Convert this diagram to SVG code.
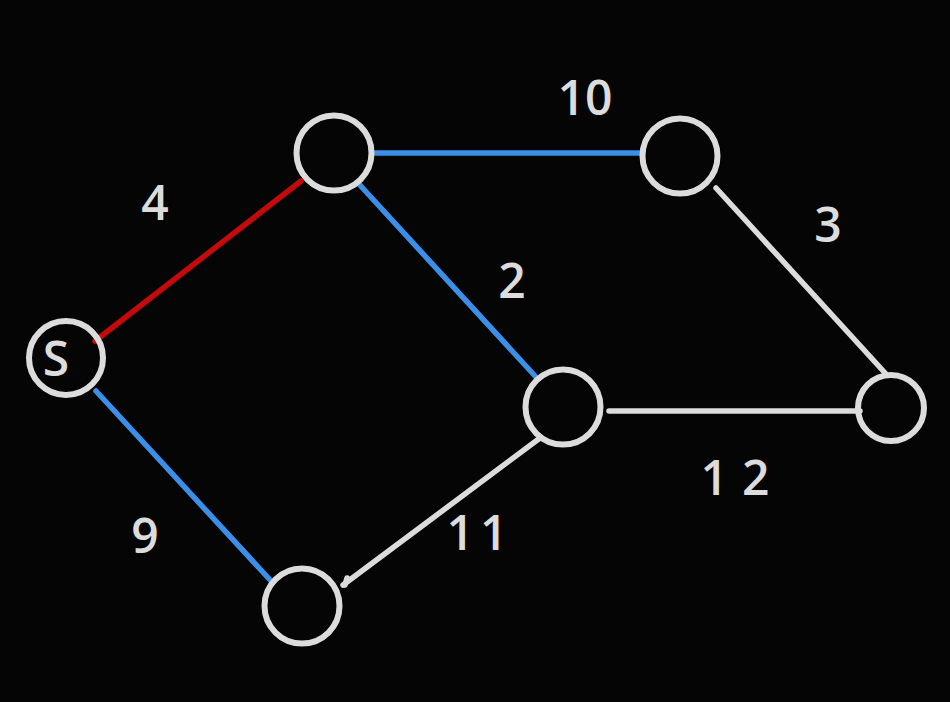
<svg xmlns="http://www.w3.org/2000/svg" width="950" height="702" viewBox="0 0 950 702">
<style>
.node{fill:none;stroke:#dcdcdc;stroke-width:6}
.e{stroke-width:5.5;stroke-linecap:round;fill:none}
.g{stroke:#dcdcdc}
.b{stroke:#3b8fe8}
.r{stroke:#c40a0a}
.lbl{fill:#dcdcdc;font-family:"Open Sans","DejaVu Sans",sans-serif;font-size:48px;font-weight:600;text-anchor:middle}
</style>
<rect width="950" height="702" fill="#050505"/>
<g id="connectors">
<line class="e r" x1="95" y1="341" x2="301" y2="181"/>
<line class="e b" x1="375" y1="153" x2="640" y2="153"/>
<line class="e b" x1="358" y1="183" x2="536" y2="377"/>
<line class="e b" x1="96" y1="391" x2="272" y2="582"/>
<line class="e g" x1="540" y1="438" x2="343" y2="585"/>
<path class="e g" d="M345 585 L347 578"/>
<line class="e g" x1="609" y1="411" x2="860" y2="411"/>
<line class="e g" x1="716" y1="188" x2="886" y2="374"/>
</g>
<g id="labels">
<text class="lbl" x="155" y="220">4</text>
<text class="lbl" x="585" y="115">10</text>
<text class="lbl" x="828" y="242">3</text>
<text class="lbl" x="512" y="298">2</text>
<text class="lbl" x="742" y="495" letter-spacing="14">12</text>
<text class="lbl" x="480" y="550" letter-spacing="6">11</text>
<text class="lbl" x="145" y="553">9</text>
</g>
<g id="S"><circle class="node" cx="66" cy="358" r="37"/><text class="lbl" x="56" y="376">S</text></g>
<g id="A"><circle class="node" cx="334" cy="153" r="37.5"/></g>
<g id="B"><circle class="node" cx="680" cy="156" r="37.5"/></g>
<g id="C"><circle class="node" cx="563" cy="407" r="37.5"/></g>
<g id="D"><circle class="node" cx="891" cy="408" r="33"/></g>
<g id="E"><circle class="node" cx="302" cy="606" r="37.5"/></g>
</svg>
